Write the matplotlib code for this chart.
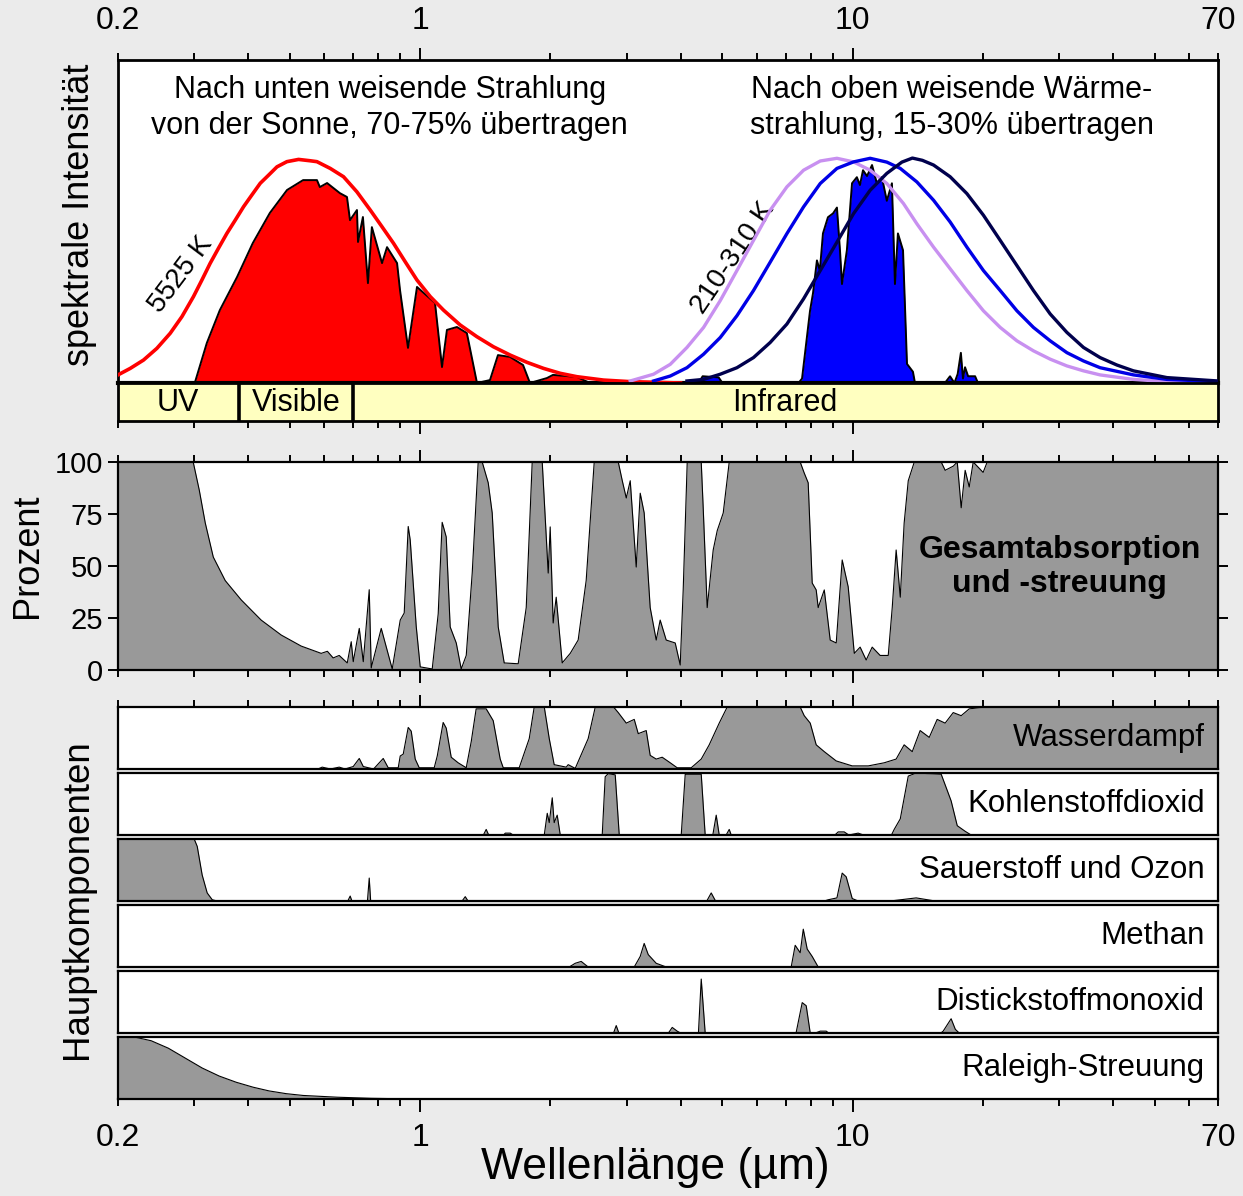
import numpy as np
import matplotlib.pyplot as plt
from matplotlib.ticker import FixedLocator, FuncFormatter

plt.rcParams['font.family'] = ['Liberation Sans', 'DejaVu Sans']

# ---- top panel: spectral intensity (normalised to peak = 1) ----
sun_bb_wl = [0.2, 0.2135, 0.2291, 0.246, 0.2641, 0.2811, 0.2989, 0.3127, 0.3267, 0.3415, 0.3571,
             0.3734, 0.3904, 0.408, 0.4266, 0.4459, 0.4663, 0.4916, 0.5231, 0.5566, 0.5769, 0.6193,
             0.6647, 0.7137, 0.7663, 0.8156, 0.8675, 0.9232, 0.9826, 1.055, 1.132, 1.237, 1.352,
             1.477, 1.615, 1.765, 1.928, 2.108, 2.304, 2.654, 3.06, 4.0]
sun_bb_int = [0.036, 0.065, 0.102, 0.154, 0.221, 0.295, 0.384, 0.458, 0.532, 0.599, 0.665,
              0.724, 0.784, 0.836, 0.888, 0.924, 0.961, 0.984, 0.994, 0.988, 0.984, 0.954,
              0.917, 0.85, 0.769, 0.695, 0.621, 0.539, 0.458, 0.384, 0.324, 0.258, 0.206,
              0.161, 0.124, 0.092, 0.065, 0.043, 0.028, 0.013, 0.006, 0.0]

sun_tr_wl = [0.29, 0.301, 0.321, 0.344, 0.377, 0.41, 0.449, 0.492, 0.536, 0.577, 0.586, 0.609, 0.652,
             0.677, 0.688, 0.714, 0.718, 0.737, 0.757, 0.773, 0.816, 0.838, 0.884, 0.898, 0.937, 0.983,
             1.082, 1.123, 1.153, 1.216, 1.282, 1.353, 1.45, 1.513, 1.613, 1.729, 1.794, 1.964, 2.028,
             2.304, 2.47, 3.0]
sun_tr_int = [0.0, 0.0, 0.178, 0.324, 0.471, 0.622, 0.756, 0.858, 0.902, 0.902, 0.871, 0.889, 0.844,
              0.827, 0.724, 0.769, 0.627, 0.738, 0.444, 0.693, 0.533, 0.604, 0.533, 0.413, 0.156, 0.427,
              0.356, 0.071, 0.236, 0.249, 0.222, 0.0, 0.013, 0.124, 0.116, 0.08, 0.0, 0.022, 0.036,
              0.027, 0.0, 0.0]

bb310_wl = [3.06, 3.464, 3.787, 4.139, 4.522, 4.941, 5.401, 5.899, 6.447, 7.047, 7.701, 8.418, 9.199,
            10.05, 10.98, 12.0, 13.11, 14.08, 15.39, 16.81, 18.38, 20.07, 21.95, 23.99, 26.2, 28.64,
            31.3, 34.2, 37.36, 44.63, 53.33, 70]
bb310_int = [0.009, 0.039, 0.083, 0.158, 0.247, 0.366, 0.50, 0.634, 0.768, 0.872, 0.946, 0.987, 0.999,
             0.983, 0.946, 0.887, 0.798, 0.708, 0.604, 0.508, 0.411, 0.321, 0.247, 0.1875, 0.143, 0.106,
             0.076, 0.054, 0.036, 0.016, 0.006, 0.0]

bb260_wl = [3.464, 3.787, 4.139, 4.522, 4.941, 5.401, 5.899, 6.447, 7.047, 7.701, 8.418, 9.199, 10.05,
            10.98, 12.0, 12.89, 14.08, 15.39, 16.81, 18.38, 20.07, 21.95, 23.99, 26.2, 28.64, 31.3,
            34.2, 37.36, 44.63, 53.33, 70]
bb260_int = [0.009, 0.031, 0.068, 0.128, 0.202, 0.299, 0.411, 0.537, 0.664, 0.783, 0.887, 0.954, 0.983,
             0.999, 0.982, 0.954, 0.894, 0.8125, 0.716, 0.604, 0.50, 0.411, 0.321, 0.247, 0.1875, 0.135,
             0.098, 0.068, 0.036, 0.016, 0.006]

bb210_wl = [4.139, 4.522, 4.941, 5.401, 5.899, 6.447, 7.047, 7.701, 8.418, 9.199, 10.05, 10.98, 12.0,
            13.0, 13.75, 14.5, 15.39, 16.81, 18.38, 20.07, 21.95, 23.99, 26.2, 28.64, 31.3, 34.2, 37.36,
            40.85, 44.63, 53.33, 70]
bb210_int = [0.009, 0.016, 0.039, 0.068, 0.113, 0.18, 0.262, 0.374, 0.50, 0.626, 0.753, 0.857, 0.932,
             0.982, 1.0, 0.99, 0.969, 0.917, 0.842, 0.746, 0.634, 0.522, 0.411, 0.307, 0.225, 0.158, 0.113,
             0.08, 0.054, 0.024, 0.009]

earth_tr_wl = [4.40, 4.5, 4.9, 5.0, 7.5, 7.64, 7.97, 8.1, 8.27, 8.4, 8.54, 8.77, 9.01, 9.2, 9.35,
               9.45, 9.7, 9.97, 10.23, 10.4, 10.57, 10.8, 11.09, 11.38, 11.69, 12.0, 12.33, 12.53,
               12.73, 13.08, 13.36, 13.79, 13.94, 16.35, 16.8, 17.2, 17.5, 17.8, 18.0, 18.2, 18.5,
               19.2, 19.5, 70]
earth_tr_int = [0.0, 0.03, 0.025, 0.0, 0.0, 0.02, 0.32, 0.40, 0.545, 0.50, 0.665, 0.737, 0.754, 0.78,
                0.59, 0.44, 0.59, 0.888, 0.915, 0.88, 0.946, 0.92, 0.969, 0.888, 0.915, 0.81, 0.888,
                0.44, 0.665, 0.59, 0.085, 0.05, 0.0, 0.0, 0.03, 0.0, 0.04, 0.134, 0.02, 0.07, 0.03,
                0.03, 0.0, 0.0]

bands = ['UV', 'Visible', 'Infrared']
band_edges = [0.2, 0.38, 0.70, 70]
band_label_wl = [0.2756, 0.5166, 6.98]

# ---- middle panel: total absorption and scattering (%) ----
total_wl = [0.2, 0.2985, 0.3083, 0.3183, 0.3322, 0.354, 0.3855, 0.4287, 0.4771, 0.5306, 0.5902, 0.61,
            0.629, 0.6496, 0.678, 0.6925, 0.70, 0.7228, 0.7384, 0.7622, 0.7703, 0.8125, 0.8615, 0.899,
            0.9183, 0.9381, 0.9481, 0.9789, 1.0, 1.066, 1.1005, 1.124, 1.1485, 1.173, 1.2115, 1.244,
            1.2777, 1.319, 1.3617, 1.391, 1.4364, 1.4672, 1.515, 1.564, 1.685, 1.7586, 1.8155, 1.915,
            1.977, 1.998, 2.03, 2.063, 2.13, 2.223, 2.319, 2.42, 2.526, 2.871, 2.933, 2.996, 3.06,
            3.159, 3.227, 3.296, 3.403, 3.514, 3.589, 3.706, 3.888, 3.993, 4.057, 4.145, 4.466, 4.513,
            4.61, 4.76, 4.863, 5.021, 5.184, 7.565, 7.729, 7.894, 8.065, 8.238, 8.326, 8.6, 8.876,
            9.165, 9.461, 9.768, 10.09, 10.41, 10.75, 11.1, 11.58, 12.09, 12.35, 12.61, 12.89, 13.16,
            13.45, 13.89, 16.03, 16.37, 17.09, 17.46, 17.83, 18.21, 18.61, 19.01, 20.04, 20.48, 70]
total_pct = [100, 100, 86.5, 70.7, 54.3, 43, 33.7, 24, 16.8, 11.5, 8, 9,
             5.8, 7, 3.4, 13.6, 4, 20, 4, 38.6, 1, 20, 0.5, 24,
             27.4, 69, 62.5, 21, 1.5, 0.5, 27, 71, 64, 20.7, 13, 0.5,
             7, 46.6, 100, 100, 90, 75.5, 20.7, 3.4, 3, 30, 100, 100,
             46.6, 68.8, 22.6, 35, 3.4, 8, 14.4, 43, 100, 100, 91, 82.7, 91,
             49.5, 85, 75.5, 30, 14.4, 24, 14.4, 13, 2.4, 38.5, 100, 100, 78,
             30, 57.7, 67, 75.5, 100, 100, 94.7, 90, 41.8, 38.5, 30, 38.5, 14.4,
             13, 52.9, 40, 8, 11, 4.8, 11, 7, 7, 30, 57.7, 35, 70.7,
             91, 100, 100, 96, 98, 100, 78, 96, 88, 100, 95, 100, 100]

# ---- bottom strips: main components (%) ----
h2o_wl = [0.2, 0.58, 0.5933, 0.62, 0.6496, 0.67, 0.70, 0.7228, 0.7384, 0.78, 0.8212, 0.8433, 0.8895,
          0.899, 0.9135, 0.9381, 0.9532, 0.9737, 0.9947, 1.0774, 1.095, 1.13, 1.1485, 1.1795, 1.224,
          1.2777, 1.312, 1.347, 1.421, 1.475, 1.531, 1.556, 1.694, 1.787, 1.835, 1.936, 1.988, 2.041,
          2.176, 2.199, 2.283, 2.446, 2.54, 2.80, 2.871, 2.996, 3.126, 3.193, 3.332, 3.403, 3.514,
          3.628, 3.787, 3.929, 4.234, 4.466, 4.66, 4.915, 5.129, 7.565, 7.729, 7.98, 8.238, 8.6,
          9.165, 9.98, 10.87, 11.83, 12.61, 13.16, 13.74, 14.33, 15.04, 15.69, 16.37, 17.09, 17.83,
          18.61, 20.26, 70]
h2o_pct = [0, 0, 3, 0, 3, 0, 4, 17, 4, 0, 17, 2, 2,
           21, 24, 67, 61, 16, 2, 2, 21, 75, 66, 19, 10,
           2, 44, 97, 97, 78, 16, 2, 2, 49, 100, 100, 49, 7,
           3, 7, 1, 49, 100, 100, 91, 74, 80, 57, 62, 22, 16,
           19, 10, 2, 2, 16, 39, 74, 100, 100, 86, 74, 39, 28,
           13, 5, 5, 10, 16, 39, 28, 62, 51, 80, 74, 91, 86,
           97, 100, 100]

co2_wl = [0.2, 1.40, 1.421, 1.44, 1.56, 1.573, 1.615, 1.64, 1.936, 1.967, 1.988, 2.02, 2.041, 2.074,
          2.108, 2.636, 2.678, 2.722, 2.825, 2.886, 4.015, 4.101, 4.466, 4.561, 4.75, 4.837, 4.915,
          5.10, 5.184, 5.239, 9.1, 9.262, 9.563, 9.8, 10.3, 10.6, 12.3, 12.48, 12.89, 13.45, 14.03,
          16.03, 16.9, 17.46, 18.21, 18.8, 70]
co2_pct = [0, 0, 9, 0, 0, 3, 3, 0, 0, 35, 20, 60, 20, 32,
           0, 0, 94, 99, 97, 0, 0, 98, 98, 0, 0, 32, 0,
           0, 9, 0, 0, 5, 5, 0, 3, 0, 0, 9, 26, 95, 100,
           98, 55, 15, 6, 0, 0]

o3_wl = [0.2, 0.3001, 0.305, 0.3131, 0.3216, 0.3304, 0.3393, 0.68, 0.6887, 0.695, 0.755, 0.7622,
         0.768, 1.25, 1.271, 1.29, 4.6, 4.71, 4.82, 8.6, 8.78, 9.2, 9.461, 9.665, 9.98, 10.3, 12.22,
         14.03, 15.52, 70]
o3_pct = [100, 100, 88, 42, 13, 2, 0, 0, 8, 0, 0, 37,
          0, 0, 7, 0, 0, 13, 0, 0, 2, 5, 45, 39, 4, 0, 0,
          5, 0, 0]

ch4_wl = [0.2, 2.211, 2.283, 2.357, 2.446, 3.126, 3.227, 3.296, 3.368, 3.514, 3.706, 7.211, 7.366,
          7.565, 7.69, 7.852, 8.065, 8.326, 70]
ch4_pct = [0, 0, 6, 9, 0, 0, 17, 38, 20, 6, 0, 0, 35,
           23, 61, 29, 17, 0, 0]

n2o_wl = [0.2, 2.80, 2.84, 2.88, 3.75, 3.827, 3.929, 4.0, 4.40, 4.466, 4.561, 7.4, 7.647, 7.811,
          7.98, 8.2, 8.418, 8.69, 8.8, 16.0, 16.2, 16.9, 17.28, 17.64, 70]
n2o_pct = [0, 0, 12, 0, 0, 9, 3, 0, 0, 87, 0, 0, 49, 44,
           0, 0, 3, 3, 0, 0, 3, 23, 6, 0, 0]

ray_wl = [0.2, 0.2182, 0.2386, 0.2614, 0.2861, 0.3131, 0.3429, 0.3754, 0.4109, 0.4474, 0.4899,
          0.5363, 0.6427, 0.7703, 0.923, 1.1, 70]
ray_pct = [100, 100, 94, 82, 66, 50, 37, 27, 19, 13, 8.6,
           5.7, 2.9, 1.1, 0.3, 0, 0]

components = [
    ('Wasserdampf', h2o_wl, h2o_pct),
    ('Kohlenstoffdioxid', co2_wl, co2_pct),
    ('Sauerstoff und Ozon', o3_wl, o3_pct),
    ('Methan', ch4_wl, ch4_pct),
    ('Distickstoffmonoxid', n2o_wl, n2o_pct),
    ('Raleigh-Streuung', ray_wl, ray_pct),
]

W, H = 1243, 1196
BG = '#ebebeb'
GRAY = '#999999'

major = [1, 10]
minor = [0.2, 0.3, 0.4, 0.5, 0.6, 0.7, 0.8, 0.9, 2, 3, 4, 5, 6, 7, 8, 9, 20, 30, 40, 50, 60, 70]


def edge_label(v, pos):
    if np.isclose(v, 0.2) or np.isclose(v, 70):
        return f'{v:g}'
    return ''


def setup_x(ax, top=False, bottom=False, labels=False):
    ax.set_xscale('log')
    ax.set_xlim(0.2, 70)
    ax.xaxis.set_major_locator(FixedLocator(major))
    ax.xaxis.set_minor_locator(FixedLocator(minor))
    ax.xaxis.set_major_formatter(FuncFormatter(lambda v, p: f'{v:g}'))
    ax.xaxis.set_minor_formatter(FuncFormatter(edge_label))
    ax.tick_params(axis='x', which='both', direction='out', top=top, bottom=bottom,
                   labeltop=labels and top, labelbottom=labels and bottom,
                   labelsize=23, width=1.4, color='black')
    ax.tick_params(axis='x', which='major', length=9, pad=8)
    ax.tick_params(axis='x', which='minor', length=5, pad=12)


def panel(top_px, bottom_px):
    return fig.add_axes([118 / W, 1 - bottom_px / H, 1100 / W, (bottom_px - top_px) / H])


fig = plt.figure(figsize=(W / 100, H / 100), dpi=100, facecolor=BG)

# ---- top panel ----
ax = panel(60, 383)
setup_x(ax, top=True, labels=True)
ax.set_ylim(0, 1.436)
ax.set_yticks([])
for s in ax.spines.values():
    s.set_linewidth(2)
ax.spines['bottom'].set_linewidth(3)
ax.fill_between(sun_tr_wl, sun_tr_int, color='#ff0000', lw=0, zorder=2)
ax.plot(sun_tr_wl, sun_tr_int, color='black', lw=1.4, zorder=3)
ax.fill_between(earth_tr_wl, earth_tr_int, color='#0000ff', lw=0, zorder=2)
ax.plot(earth_tr_wl, earth_tr_int, color='black', lw=1.4, zorder=3)
ax.plot(sun_bb_wl, sun_bb_int, color='#ff0000', lw=2.6, zorder=4)
ax.plot(bb310_wl, bb310_int, color='#c890f0', lw=2.4, zorder=4)
ax.plot(bb260_wl, bb260_int, color='#0000e6', lw=2.4, zorder=4)
ax.plot(bb210_wl, bb210_int, color='#00004d', lw=2.4, zorder=4)
ax.text(0.247, 0.852, 'Nach unten weisende Strahlung\nvon der Sonne, 70-75% übertragen',
        transform=ax.transAxes, ha='center', va='center', fontsize=22, linespacing=1.27)
ax.text(0.758, 0.852, 'Nach oben weisende Wärme-\nstrahlung, 15-30% übertragen',
        transform=ax.transAxes, ha='center', va='center', fontsize=22, linespacing=1.27)
ax.text(0.28, 0.48, '5525 K', rotation=53, rotation_mode='anchor',
        ha='center', va='center', fontsize=20)
ax.text(5.3, 0.556, '210-310 K', rotation=56, rotation_mode='anchor',
        ha='center', va='center', fontsize=20)

# ---- band strip ----
axb = panel(383, 421)
setup_x(axb, bottom=True)
axb.set_ylim(0, 1)
axb.set_yticks([])
axb.set_facecolor('#ffffc0')
for s in axb.spines.values():
    s.set_linewidth(2)
for e in band_edges[1:-1]:
    axb.axvline(e, color='black', lw=2.6)
for name, xw in zip(bands, band_label_wl):
    axb.text(xw, 0.47, name, ha='center', va='center', fontsize=22)

# ---- total absorption ----
axm = panel(462, 670)
setup_x(axm, top=True, bottom=True)
axm.set_ylim(0, 100)
axm.set_yticks([0, 25, 50, 75, 100])
axm.tick_params(axis='y', direction='out', left=True, right=True, labelsize=21,
                length=7, width=1.4, pad=4)
for s in axm.spines.values():
    s.set_linewidth(1.6)
axm.fill_between(total_wl, total_pct, color=GRAY, lw=0)
axm.plot(total_wl, total_pct, color='black', lw=0.8)
axm.text(0.856, 0.495, 'Gesamtabsorption\nund -streuung', transform=axm.transAxes,
         ha='center', va='center', fontsize=23, fontweight='bold', linespacing=1.2)

# ---- component strips ----
for i, (name, wl, pct) in enumerate(components):
    t = 707 + 66 * i
    axs = panel(t, t + 62)
    setup_x(axs, top=(i == 0), bottom=(i == len(components) - 1),
            labels=(i == len(components) - 1))
    axs.set_ylim(0, 100)
    axs.set_yticks([])
    for s in axs.spines.values():
        s.set_linewidth(1.6)
    axs.fill_between(wl, pct, color=GRAY, lw=0)
    axs.plot(wl, pct, color='black', lw=0.8)
    axs.text(0.988, 0.5, name, transform=axs.transAxes, ha='right', va='center', fontsize=22.5)

fig.text(80 / W, 1 - 215 / H, 'spektrale Intensität', rotation=90, ha='center', va='center',
         fontsize=26)
fig.text(28 / W, 1 - 556 / H, 'Prozent', rotation=90, ha='center', va='center', fontsize=26)
fig.text(78 / W, 1 - 899 / H, 'Hauptkomponenten', rotation=90, ha='center', va='center',
         fontsize=26.5)
fig.text(655 / W, 1 - 1168 / H, 'Wellenlänge (µm)', ha='center', va='center', fontsize=32)

fig.savefig('out.png', dpi=100, facecolor=BG)
